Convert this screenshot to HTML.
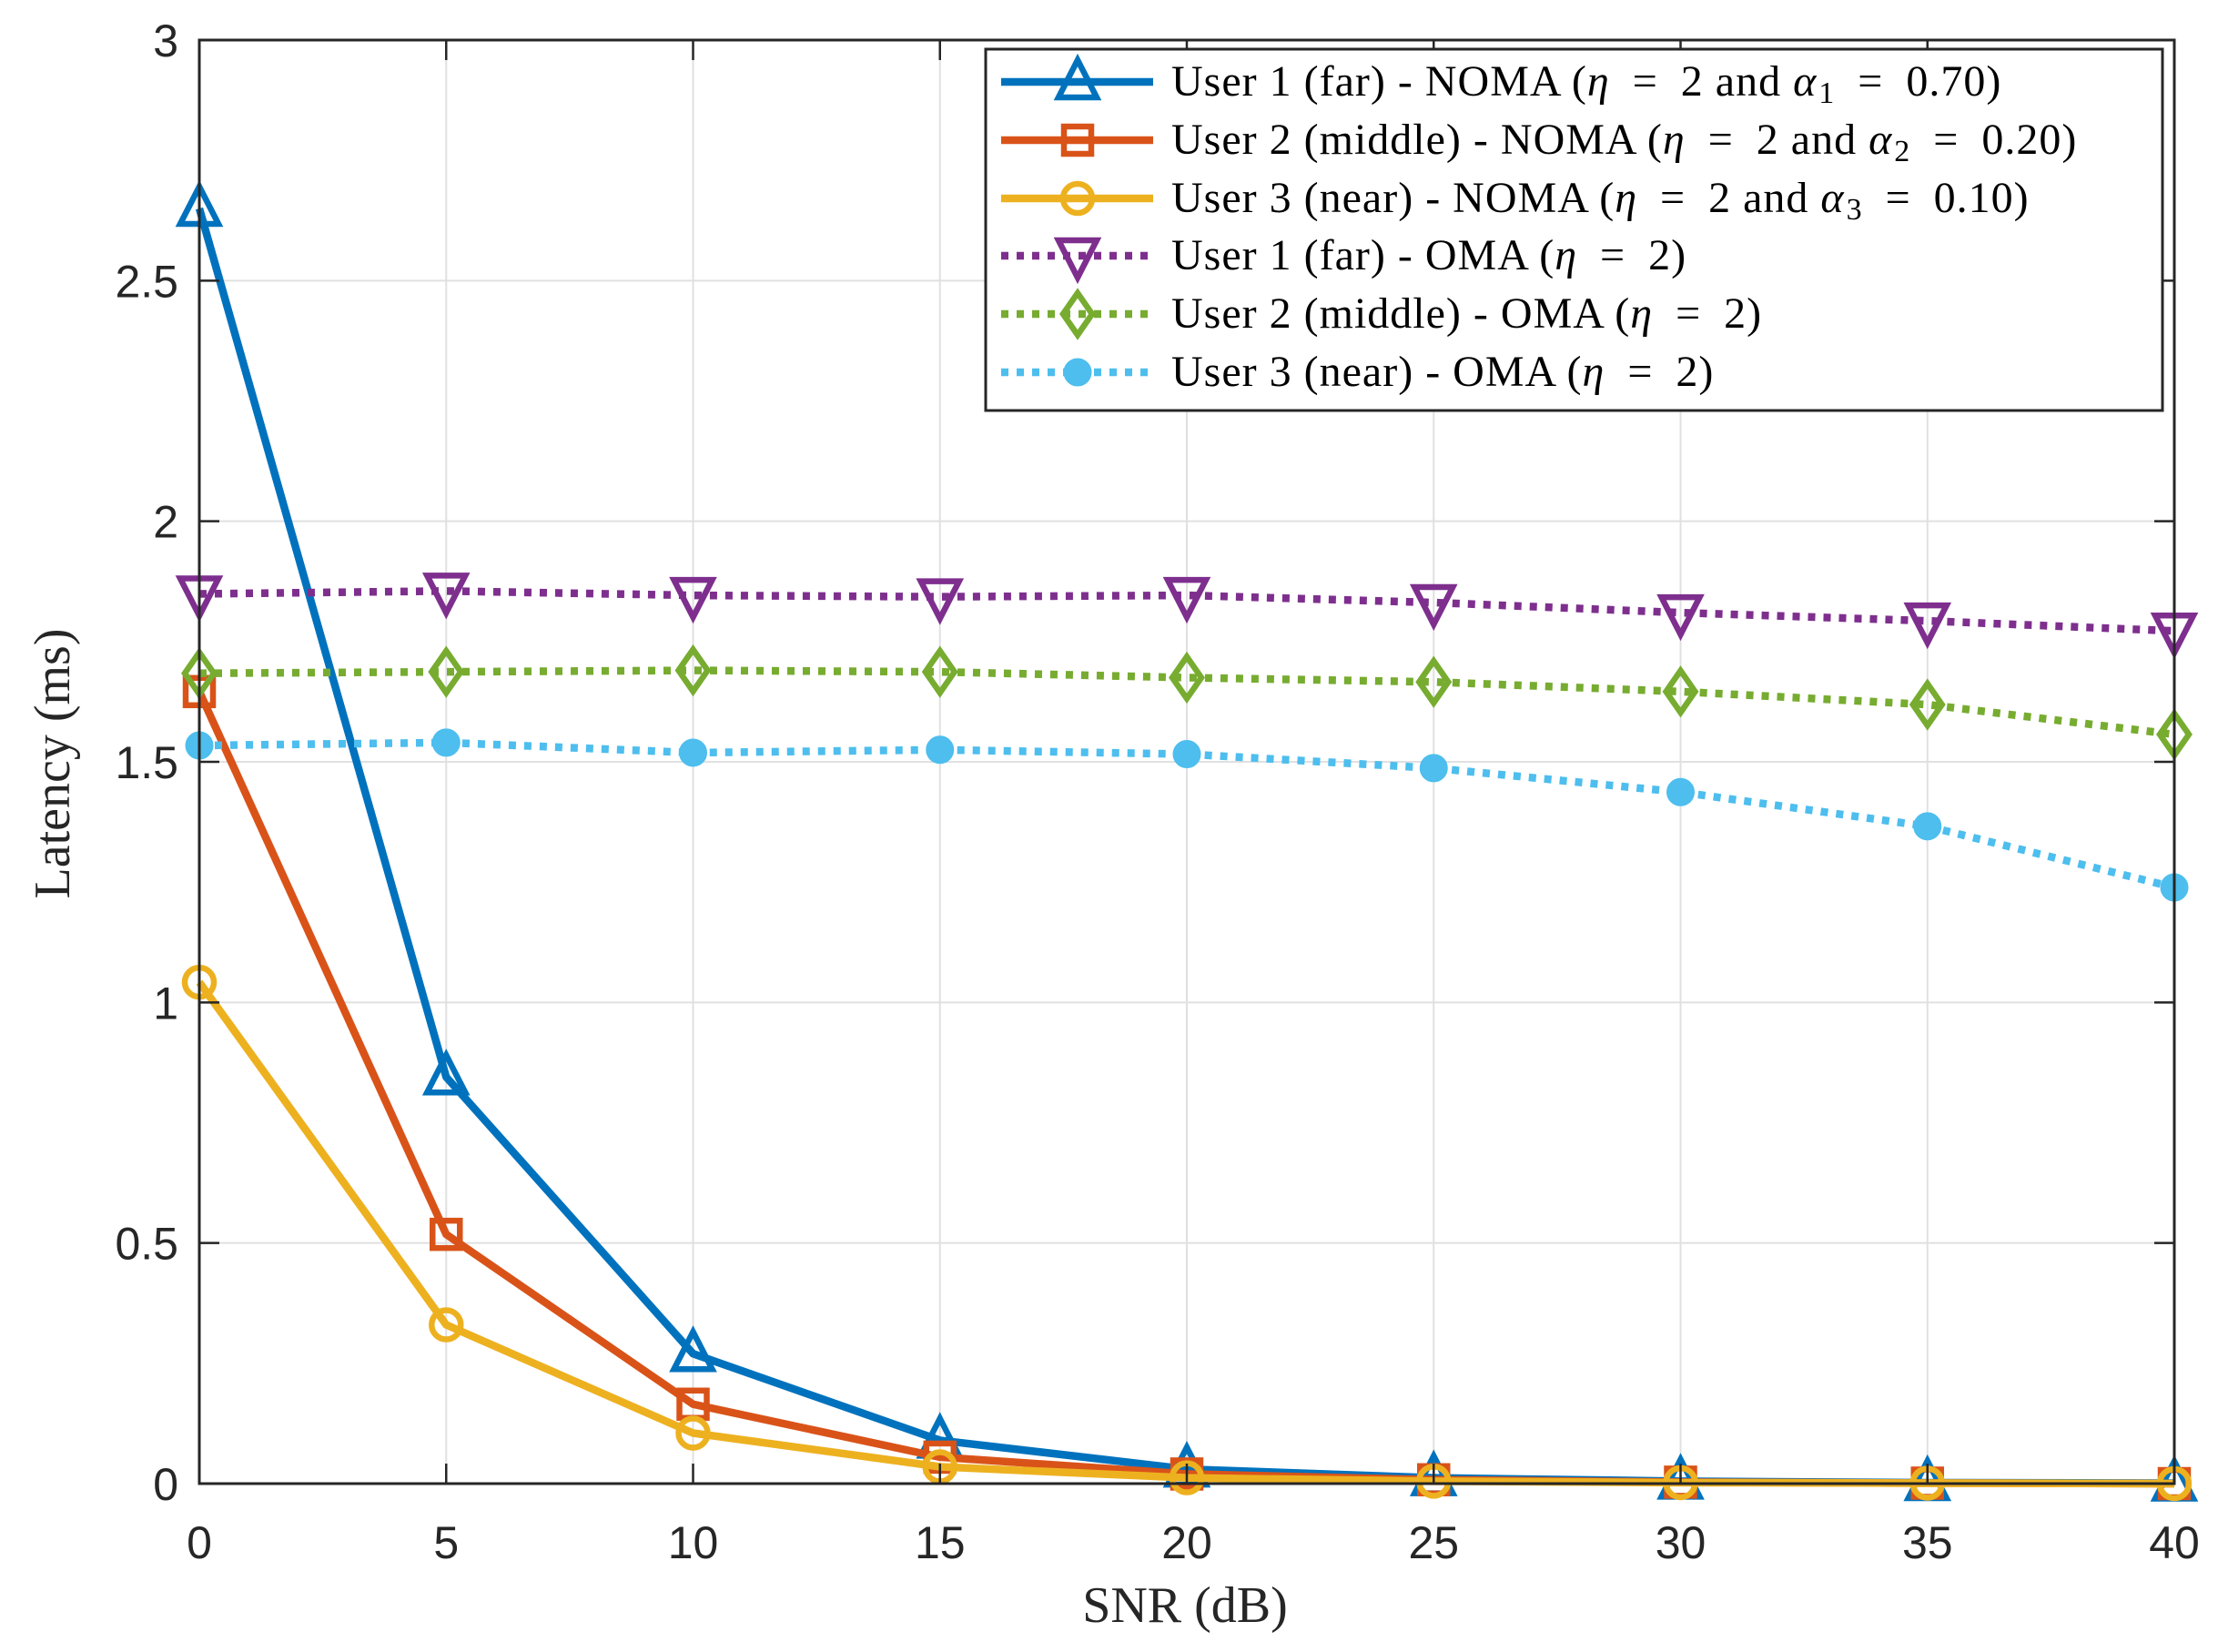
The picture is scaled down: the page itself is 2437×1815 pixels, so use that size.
<!DOCTYPE html>
<html><head><meta charset="utf-8"><style>body{margin:0;background:#fff}svg{display:block}</style></head>
<body>
<svg id="chart" width="2437" height="1815" xmlns="http://www.w3.org/2000/svg">
<rect width="2437" height="1815" fill="#fff"/>
<g id="grid"></g><g id="series"></g><g id="axes"></g><g id="legend"></g>
</svg>
<script>
const snr = [0,5,10,15,20,25,30,35,40];
const nomaU1 = [2.65,0.845,0.27,0.09,0.03,0.012,0.005,0.002,0.001];
const nomaU2 = [1.646,0.518,0.165,0.055,0.02,0.008,0.003,0.001,0];
const nomaU3 = [1.042,0.33,0.105,0.035,0.012,0.005,0.002,0.001,0];
const omaU1 = [1.849,1.855,1.846,1.843,1.846,1.831,1.81,1.793,1.772];
const omaU2 = [1.684,1.687,1.69,1.687,1.675,1.666,1.646,1.619,1.557];
const omaU3 = [1.534,1.54,1.519,1.525,1.516,1.487,1.437,1.366,1.239];
const xTicks = [0,5,10,15,20,25,30,35,40];
const yTicks = [0,0.5,1,1.5,2,2.5,3];
const yTickLabels = ['0','0.5','1','1.5','2','2.5','3'];

const NS='http://www.w3.org/2000/svg';
const L=219,R=2389,T=44,B=1630;
const sx=v=>L+(v-0)/(40-0)*(R-L);
const sy=v=>B-(v-0)/(3-0)*(B-T);
function mk(tag,attrs,parent){const e=document.createElementNS(NS,tag);for(const k in attrs)e.setAttribute(k,attrs[k]);parent.appendChild(e);return e;}
const grid=document.getElementById('grid'),axes=document.getElementById('axes'),ser=document.getElementById('series'),leg=document.getElementById('legend');

xTicks.forEach(t=>{
  const g=mk('line',{x1:sx(t),x2:sx(t),y1:T,y2:B,stroke:'#e0e0e0','stroke-width':2},grid);
  
  
  mk('line',{x1:sx(t),x2:sx(t),y1:B,y2:B-22,stroke:'#262626','stroke-width':2.5},axes);
  mk('line',{x1:sx(t),x2:sx(t),y1:T,y2:T+22,stroke:'#262626','stroke-width':2.5},axes);
  const tx=mk('text',{x:sx(t),y:1712,'text-anchor':'middle','font-family':'Liberation Sans, sans-serif','font-size':50,fill:'#262626'},axes);
  tx.textContent=t;
  
  
});
yTicks.forEach((t,i)=>{
  const g=mk('line',{x1:L,x2:R,y1:sy(t),y2:sy(t),stroke:'#e0e0e0','stroke-width':2},grid);
  
  
  mk('line',{x1:L,x2:L+22,y1:sy(t),y2:sy(t),stroke:'#262626','stroke-width':2.5},axes);
  mk('line',{x1:R,x2:R-22,y1:sy(t),y2:sy(t),stroke:'#262626','stroke-width':2.5},axes);
  const tx=mk('text',{x:196,y:sy(t)+18,'text-anchor':'end','font-family':'Liberation Sans, sans-serif','font-size':50,fill:'#262626'},axes);
  tx.textContent=yTickLabels[i];
  
  
});
const box=mk('rect',{x:L,y:T,width:R-L,height:B-T,fill:'none',stroke:'#262626','stroke-width':3},axes);


const xl=mk('text',{x:1302,y:1782,'text-anchor':'middle','font-family':'Liberation Serif, serif','font-size':56,fill:'#262626'},axes);
xl.textContent='SNR (dB)';


const yl=mk('text',{x:0,y:0,transform:'translate(76,839) rotate(-90)','text-anchor':'middle','font-family':'Liberation Serif, serif','font-size':56,fill:'#262626'},axes);
yl.textContent='Latency (ms)';



function marker(type,x,y,color,parent){
  const s=21,sw=6.5;
  if(type==='tu') return mk('polygon',{points:`${x},${y-s-3} ${x+s},${y+s-4} ${x-s},${y+s-4}`,fill:'none',stroke:color,'stroke-width':sw},parent);
  if(type==='td') return mk('polygon',{points:`${x},${y+s+3} ${x+s},${y-s+4} ${x-s},${y-s+4}`,fill:'none',stroke:color,'stroke-width':sw},parent);
  if(type==='sq') return mk('rect',{x:x-15,y:y-15,width:30,height:30,fill:'none',stroke:color,'stroke-width':sw},parent);
  if(type==='ci') return mk('circle',{cx:x,cy:y,r:16,fill:'none',stroke:color,'stroke-width':sw},parent);
  if(type==='di') return mk('polygon',{points:`${x},${y-23} ${x+16},${y} ${x},${y+23} ${x-16},${y}`,fill:'none',stroke:color,'stroke-width':sw},parent);
  if(type==='fc') return mk('circle',{cx:x,cy:y,r:15,fill:color,stroke:color,'stroke-width':1},parent);
}
const seriesDefs=[
 {name:'noma-user1',data:nomaU1,color:'#0072BD',m:'tu',dash:null},
 {name:'noma-user2',data:nomaU2,color:'#D95319',m:'sq',dash:null},
 {name:'noma-user3',data:nomaU3,color:'#EDB120',m:'ci',dash:null},
 {name:'oma-user1',data:omaU1,color:'#7E2F8E',m:'td',dash:'8 9'},
 {name:'oma-user2',data:omaU2,color:'#77AC30',m:'di',dash:'8 9'},
 {name:'oma-user3',data:omaU3,color:'#4DBEEE',m:'fc',dash:'8 9'}
];
seriesDefs.forEach(sd=>{
  const g=mk('g',{},ser);
  
  
  const pts=snr.map((x,i)=>sx(x)+','+sy(sd.data[i])).join(' ');
  const a={points:pts,fill:'none',stroke:sd.color,'stroke-width':8.5,'stroke-linejoin':'round'};
  if(sd.dash){a['stroke-dasharray']=sd.dash;}
  const pl=mk('polyline',a,g);
  
  
  snr.forEach((x,i)=>{
    const p=marker(sd.m,sx(x),sy(sd.data[i]),sd.color,g);
    
    
  });
});

// legend
const lb=mk('rect',{x:1083,y:54,width:1293,height:397,fill:'#fff',stroke:'#262626','stroke-width':3},leg);


const rowsY=[90,154,218,281,345,409];
const E='\u2002';
const labels=[
 [['User 1 (far) - NOMA (',''],['η','i'],[E+'='+E+'2 and ',''],['α','i'],['1','s'],[E+'='+E+'0.70)','']],
 [['User 2 (middle) - NOMA (',''],['η','i'],[E+'='+E+'2 and ',''],['α','i'],['2','s'],[E+'='+E+'0.20)','']],
 [['User 3 (near) - NOMA (',''],['η','i'],[E+'='+E+'2 and ',''],['α','i'],['3','s'],[E+'='+E+'0.10)','']],
 [['User 1 (far) - OMA (',''],['η','i'],[E+'='+E+'2)','']],
 [['User 2 (middle) - OMA (',''],['η','i'],[E+'='+E+'2)','']],
 [['User 3 (near) - OMA (',''],['η','i'],[E+'='+E+'2)','']]
];
seriesDefs.forEach((sd,i)=>{
  const y=rowsY[i];
  const g=mk('g',{},leg);
  
  
  const a={x1:1100,x2:1267,y1:y,y2:y,stroke:sd.color,'stroke-width':8.5};
  if(sd.dash)a['stroke-dasharray']=sd.dash;
  mk('line',a,g);
  marker(sd.m,1184,y,sd.color,g);
  const t=mk('text',{x:1287,y:y+15,'font-family':'Liberation Serif, serif','font-size':48,'letter-spacing':'1',fill:'#000'},g);
  labels[i].forEach(([s,k])=>{
    const ts=mk('tspan',{},t);
    if(k==='i')ts.setAttribute('font-style','italic');
    if(k==='s'){ts.setAttribute('font-size','34');ts.setAttribute('dy','8');}
    ts.textContent=s;
    if(k==='s'){ts.setAttribute('dx','2');}
  });
  // reset baseline after subscript
  t.querySelectorAll('tspan').forEach((ts,j,arr)=>{
    if(j>0 && arr[j-1].getAttribute('dy')==='8'){ts.setAttribute('dy','-8');}
  });
});
</script>
</body></html>
